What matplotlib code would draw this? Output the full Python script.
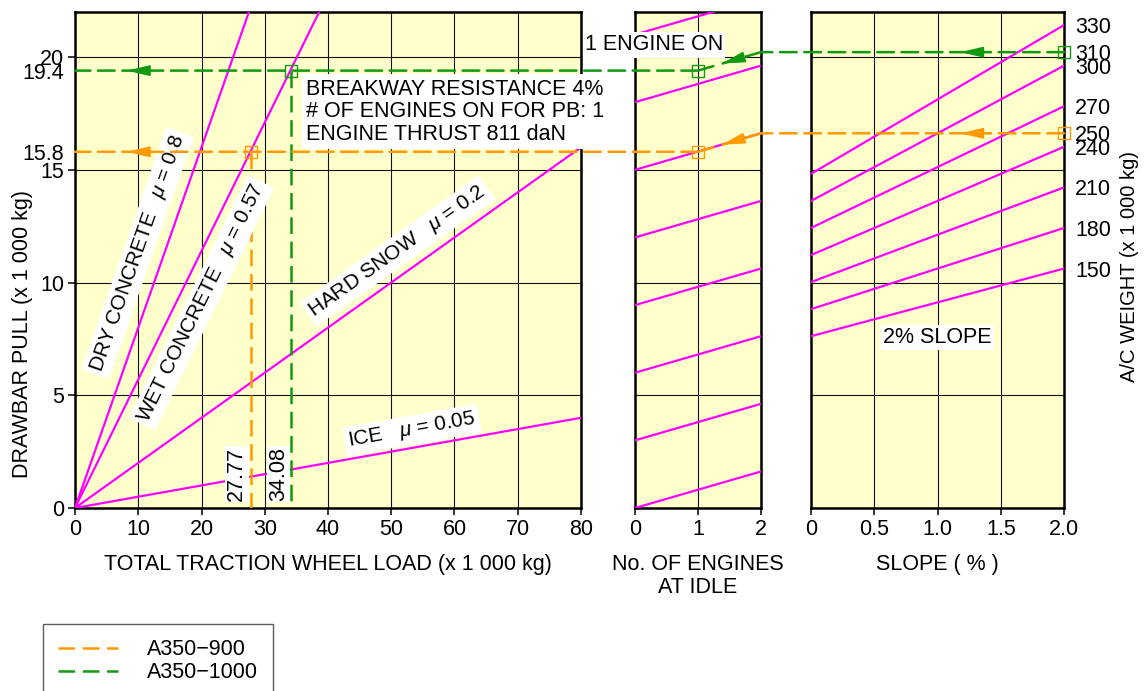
import numpy as np
import matplotlib.pyplot as plt
from matplotlib.patches import ConnectionPatch
from matplotlib.lines import Line2D

plt.rcParams['font.family'] = ['Liberation Sans', 'DejaVu Sans']
plt.rcParams['mathtext.fontset'] = 'custom'
plt.rcParams['mathtext.rm'] = 'Liberation Sans'
plt.rcParams['mathtext.it'] = 'Liberation Sans:italic'
plt.rcParams['lines.scale_dashes'] = False

# --- left panel: drawbar pull vs traction wheel load
surface_names = ['DRY CONCRETE', 'WET CONCRETE', 'HARD SNOW', 'ICE']
surface_mu = ['0.8', '0.57', '0.2', '0.05']
load_end = [27.5, 38.6, 80, 80]
pull_end = [22, 22, 16, 4]

# --- middle panel: engines at idle
engines = [0, 2]
idle_pull_0 = [0, 3, 6, 9, 12, 15, 18, 21]
idle_pull_2 = [1.62, 4.62, 7.62, 10.62, 13.62, 16.62, 19.62, 22.62]

# --- right panel: slope lines per A/C weight
slope = [0, 2]
weights = [150, 180, 210, 240, 270, 300, 330]
slope_pull_0 = [7.62, 8.82, 10.02, 11.22, 12.42, 13.62, 14.82]
slope_pull_2 = [10.62, 12.42, 14.22, 16.02, 17.82, 19.62, 21.42]

weight_ticks = [330, 310, 300, 270, 250, 240, 210, 180, 150]
weight_tick_pull = [21.42, 20.22, 19.62, 17.82, 16.62, 16.02, 14.22, 12.42, 10.62]

# --- worked examples
aircraft = ['A350\u2212900', 'A350\u22121000']
ac_weight = [250, 310]
ac_pull_slope = [16.62, 20.22]
ac_pull = [15.8, 19.4]
ac_load = [27.77, 34.08]
ac_colors = ['#FF9900', '#119911']

MAG = '#FF00FF'
BG = '#FFFFCC'
DASH = (0, (12, 5.5))
FS = 15.5

fig = plt.figure(figsize=(11.44, 6.91), dpi=100)
W, H = 1144, 691


def px_axes(x0, x1, y0, y1):
    return fig.add_axes([x0 / W, 1 - y1 / H, (x1 - x0) / W, (y1 - y0) / H])


ax_l = px_axes(75, 581, 12, 508)
ax_m = px_axes(635, 761, 12, 508)
ax_r = px_axes(811, 1064, 12, 508)
ax_w = ax_r.twinx()

for ax in (ax_l, ax_m, ax_r):
    ax.set_facecolor(BG)
    ax.set_ylim(0, 22)
    ax.set_yticks([0, 5, 10, 15, 20])
    ax.grid(True, color='#111111', lw=0.8)
    ax.set_axisbelow(True)
    for s in ax.spines.values():
        s.set_linewidth(1.8)
    ax.tick_params(direction='out', length=5, width=1.1, labelsize=FS, pad=3)

ax_l.set_xlim(0, 80)
ax_l.set_xticks(range(0, 81, 10))
ax_l.set_yticks([15.8, 19.4], minor=True)
ax_l.set_yticklabels(['15.8', '19.4'], minor=True)
ax_l.tick_params(axis='y', which='minor', length=0, pad=8, labelsize=FS)
ax_l.set_xlabel('TOTAL TRACTION WHEEL LOAD (x 1 000 kg)', fontsize=FS, labelpad=10)
ax_l.set_ylabel('DRAWBAR PULL (x 1 000 kg)', fontsize=FS)
ax_l.yaxis.set_label_coords(-0.083, 0.35)

ax_m.set_xlim(0, 2)
ax_m.set_xticks([0, 1, 2])
ax_m.tick_params(axis='y', left=False, right=False, labelleft=False)
ax_m.set_xlabel('No. OF ENGINES\nAT IDLE', fontsize=FS, labelpad=10, linespacing=1.1)

ax_r.set_xlim(0, 2)
ax_r.set_xticks([0, 0.5, 1, 1.5, 2])
ax_r.set_xticklabels(['0', '0.5', '1.0', '1.5', '2.0'])
ax_r.tick_params(axis='y', left=False, right=False, labelleft=False)
ax_r.set_xlabel('SLOPE ( % )', fontsize=FS, labelpad=10)

ax_w.set_ylim(0, 22)
ax_w.set_yticks(weight_tick_pull)
ax_w.set_yticklabels([str(w) for w in weight_ticks])
ax_w.tick_params(axis='y', length=0, pad=8, labelsize=FS)
ax_w.set_ylabel('A/C WEIGHT (x 1 000 kg)', fontsize=14.5)
ax_w.yaxis.set_label_coords(1.221, 0.486)
for s in ax_w.spines.values():
    s.set_visible(False)

# magenta curves
for le, pe in zip(load_end, pull_end):
    ax_l.plot([0, le], [0, pe], color=MAG, lw=1.6, zorder=3)
for p0, p2 in zip(idle_pull_0, idle_pull_2):
    ax_m.plot(engines, [p0, p2], color=MAG, lw=1.6, zorder=3)
for p0, p2 in zip(slope_pull_0, slope_pull_2):
    ax_r.plot(slope, [p0, p2], color=MAG, lw=1.6, zorder=3)

# surface labels along lines
box = dict(facecolor='white', edgecolor='none', pad=2.5)
label_pos = [(9.9, 11.3), (20.0, 9.1), (51.0, 11.4), (53.3, 3.46)]
for name, mu, le, pe, (tx, ty) in zip(surface_names, surface_mu, load_end, pull_end, label_pos):
    p0 = ax_l.transData.transform((0, 0))
    p1 = ax_l.transData.transform((le, pe))
    ang = np.degrees(np.arctan2(p1[1] - p0[1], p1[0] - p0[0]))
    ax_l.text(tx, ty, name + '   $\\mu$ = ' + mu, rotation=ang, rotation_mode='anchor',
              ha='center', va='center', fontsize=15, bbox=box, zorder=5)

ax_l.text(36.5, 19.05,
          'BREAKWAY RESISTANCE 4%\n# OF ENGINES ON FOR PB: 1\nENGINE THRUST 811 daN',
          ha='left', va='top', fontsize=FS, linespacing=1.12,
          bbox=dict(facecolor='white', edgecolor='none', pad=3), zorder=5)
ax_r.text(1.0, 7.56, '2% SLOPE', ha='center', va='center', fontsize=FS,
          bbox=dict(facecolor='white', edgecolor='none', pad=1.5), zorder=5)
fig.text(654 / W, 1 - 45 / H, '1 ENGINE ON', ha='center', va='center', fontsize=FS,
         bbox=dict(facecolor='white', edgecolor='none', pad=1.5), zorder=5)

# worked example paths
num_dx = [-2.2, -1.9]
for col, wp, p, load, dx in zip(ac_colors, ac_pull_slope, ac_pull, ac_load, num_dx):
    kw = dict(color=col, lw=1.8, linestyle=DASH)
    fig.add_artist(ConnectionPatch((2, wp), (2, wp), 'data', 'data', axesA=ax_r, axesB=ax_m,
                                   zorder=4, **kw))
    ax_m.plot([2, 1], [wp, p], zorder=4, **kw)
    fig.add_artist(ConnectionPatch((1, p), (0, p), 'data', 'data', axesA=ax_m, axesB=ax_l,
                                   zorder=4, **kw))
    ax_l.plot([load, load], [p, 0], zorder=4, **kw)
    ax_l.text(load + dx, 1.5, f'{load:.2f}', rotation=90, ha='center', va='center',
              fontsize=FS, bbox=dict(facecolor='white', edgecolor='none', pad=1), zorder=5)

    ap = dict(arrowstyle='-|>,head_length=1.4,head_width=0.33', color=col, lw=1.2,
              shrinkA=0, shrinkB=0, mutation_scale=10)
    ax_l.annotate('', xy=(8.2, p), xytext=(11.6, p), arrowprops=ap, zorder=6)
    ax_r.annotate('', xy=(1.18, wp), xytext=(1.36, wp), arrowprops=ap, zorder=6)
    ym = lambda x: p + (wp - p) * (x - 1)
    ax_m.annotate('', xy=(1.38, ym(1.38)), xytext=(1.72, ym(1.72)), arrowprops=ap, zorder=6)

    sq = dict(marker='s', ms=9, mfc='none', mec=col, mew=1.0, clip_on=False, zorder=7)
    ax_l.plot([load], [p], **sq)
    ax_m.plot([1], [p], **sq)
    ax_r.plot([2], [wp], **sq)

handles = [Line2D([], [], color=c, lw=1.8, linestyle=DASH) for c in ac_colors]
leg = fig.legend(handles, aircraft, loc='upper left', bbox_to_anchor=(43 / W, 1 - 624 / H),
                 borderaxespad=0, fontsize=FS, handlelength=2.8, handletextpad=1.35,
                 frameon=True, fancybox=False, edgecolor='#333333', borderpad=0.7,
                 labelspacing=0.1)
leg.get_frame().set_linewidth(1.0)

fig.savefig('out.png', dpi=100)
